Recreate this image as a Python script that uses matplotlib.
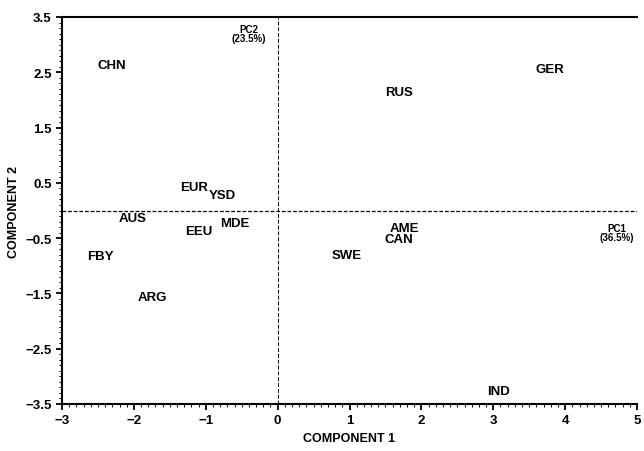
import numpy as np
import matplotlib.pyplot as plt
from matplotlib.ticker import MultipleLocator

plt.rcParams['font.family'] = ['Liberation Sans', 'DejaVu Sans']
plt.rcParams['font.weight'] = 'bold'

# Punktwerte (Komponente 1 / Komponente 2)
countries = ['CHN', 'GER', 'RUS', 'EUR', 'YSD', 'AUS', 'MDE', 'EEU',
             'FBY', 'ARG', 'SWE', 'AME', 'CAN', 'IND']
comp1 = [-2.31, 3.79, 1.69, -1.16, -0.77, -2.02, -0.59, -1.10,
         -2.47, -1.74, 0.96, 1.76, 1.69, 3.07]
comp2 = [2.63, 2.56, 2.14, 0.42, 0.28, -0.14, -0.23, -0.37,
         -0.82, -1.56, -0.80, -0.32, -0.52, -3.26]

xticks = [-3, -2, -1, 0, 1, 2, 3, 4, 5]
yticks = [-3.5, -2.5, -1.5, -0.5, 0.5, 1.5, 2.5, 3.5]

fig = plt.figure(figsize=(6.44, 4.52), dpi=100)
ax = fig.add_axes([62/644, 1 - 405/452, (637 - 62)/644, (405 - 18)/452])
ax.set_xlim(-3, 5)
ax.set_ylim(-3.5, 3.5)

for name, x, y in zip(countries, comp1, comp2):
    ax.text(x, y, name, ha='center', va='center', fontsize=9.5, fontweight='bold')

ax.axvline(0, color='k', ls=(0, (4, 2)), lw=0.7)
ax.axhline(0, color='k', ls=(0, (3, 1.5)), lw=0.9)

ax.text(-0.40, 3.2, 'PC2\n(23.5%)', ha='center', va='center', fontsize=7,
        fontweight='bold', linespacing=0.9)
ax.text(4.72, -0.40, 'PC1\n(36.5%)', ha='center', va='center', fontsize=7,
        fontweight='bold', linespacing=0.9)

ax.set_xticks(xticks)
ax.set_yticks(yticks)
ax.set_xticklabels([str(v).replace('-', '\u2212') for v in xticks])
ax.set_yticklabels([str(v).replace('-', '\u2212') for v in yticks])
ax.xaxis.set_minor_locator(MultipleLocator(0.1))
ax.yaxis.set_minor_locator(MultipleLocator(0.1))
ax.tick_params(which='major', direction='out', length=4, width=1.3, labelsize=9.5)
ax.tick_params(which='minor', direction='out', length=2, width=0.7)
for lab in ax.get_xticklabels() + ax.get_yticklabels():
    lab.set_fontweight('bold')

for s in ['left', 'bottom', 'top']:
    ax.spines[s].set_linewidth(1.5)
ax.spines['right'].set_visible(False)

ax.set_xlabel('COMPONENT 1', fontsize=9, fontweight='bold', labelpad=4)
ax.set_ylabel('COMPONENT 2', fontsize=9, fontweight='bold', labelpad=4)

fig.savefig('out.png', dpi=100)
